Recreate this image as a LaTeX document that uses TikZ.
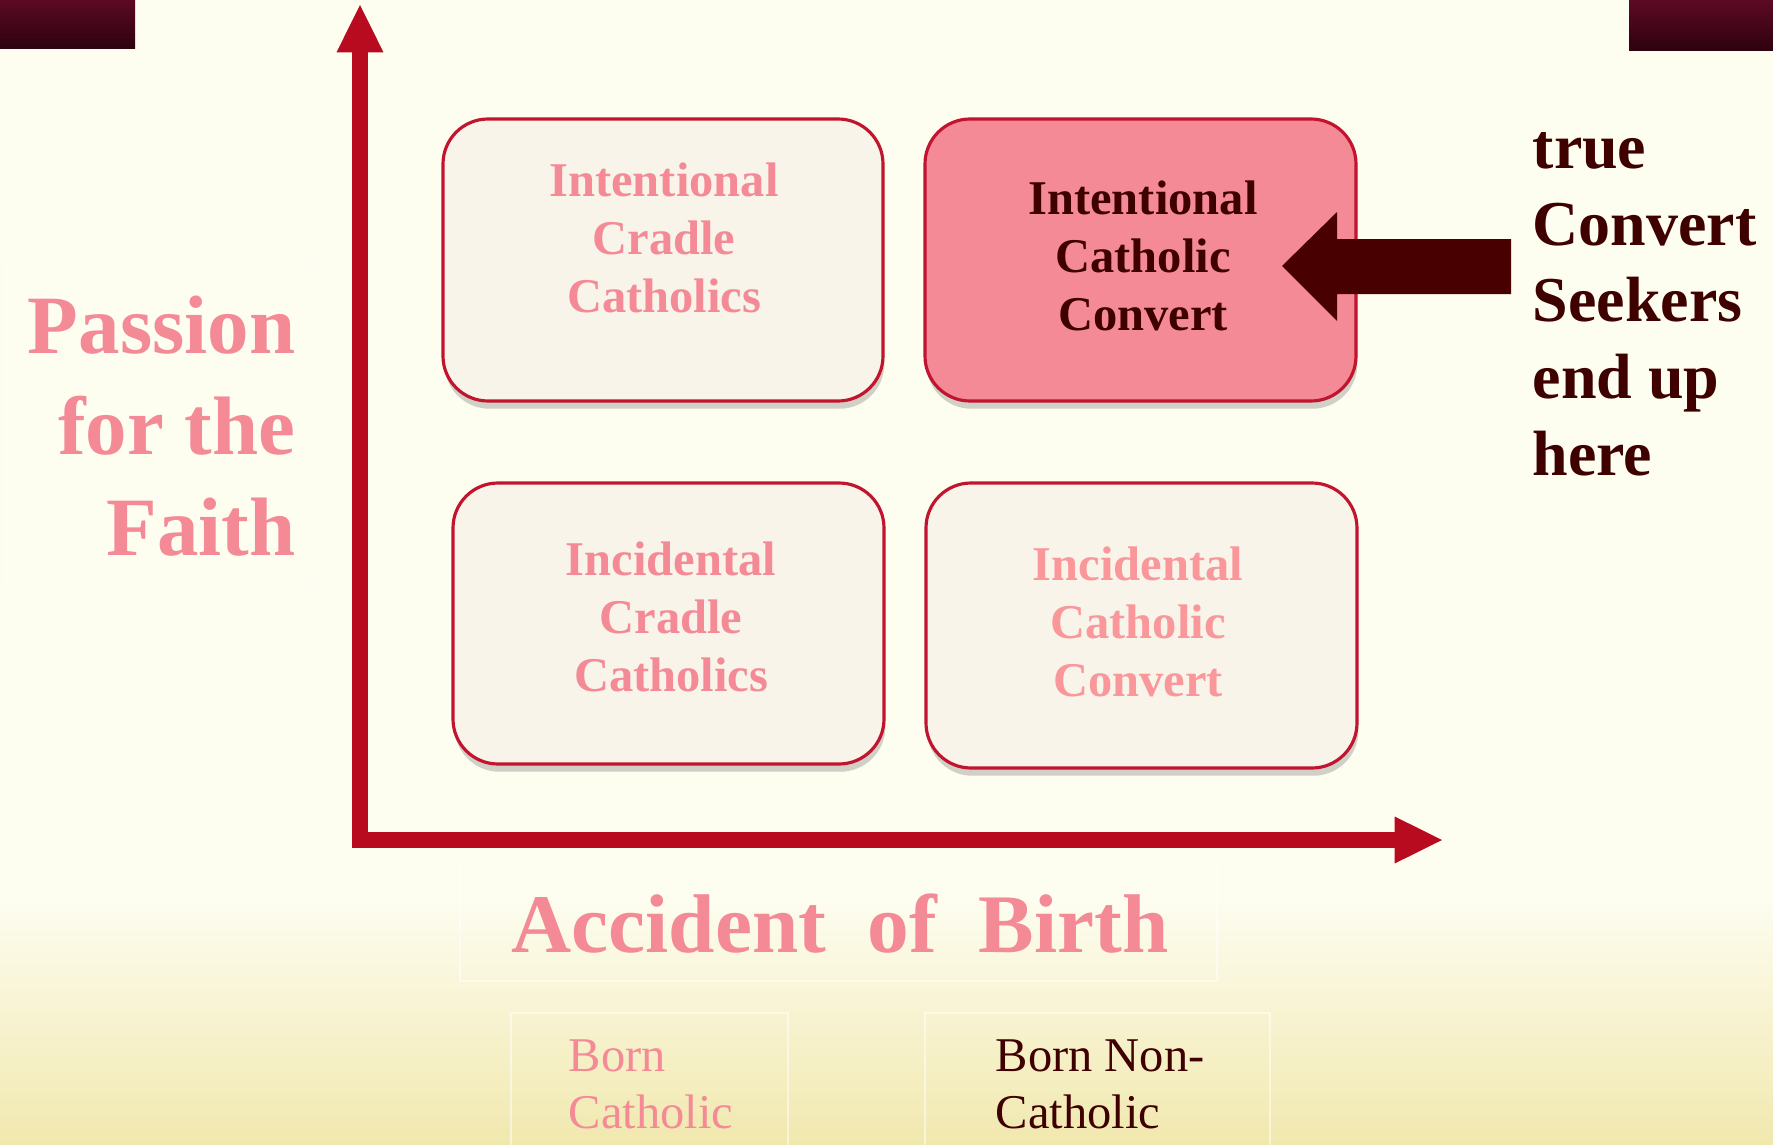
\documentclass[tikz,border=0pt]{standalone}
\usepackage{fontspec}
\setmainfont{Liberation Serif}
\usepackage{xcolor}
\usepackage{tikz}
\usetikzlibrary{arrows.meta}
\usetikzlibrary{shadows}

\definecolor{cream}{HTML}{FDFDF0}
\definecolor{wheat}{HTML}{F1E8AE}
\definecolor{axisred}{HTML}{B80B1F}
\definecolor{boxred}{HTML}{C2142E}
\definecolor{boxfill}{HTML}{F8F4EA}
\definecolor{rosepink}{HTML}{F48A95}
\definecolor{salmon}{HTML}{F9979A}
\definecolor{maroon}{HTML}{3F0000}
\definecolor{winetop}{HTML}{5C0A24}
\definecolor{winebot}{HTML}{2E020E}

\tikzset{
  quad/.style={draw=boxred, line width=0.9pt, fill=boxfill, rounded corners=4.5mm,
    inner sep=0pt, drop shadow={shadow xshift=0.4pt, shadow yshift=-2.2pt, opacity=0.25, fill=black!70}},
  quadtext/.style={align=center, inner sep=0pt, anchor=base, text=rosepink,
    font=\bfseries\fontsize{13.8}{16.4}\selectfont},
  axis/.style={line width=4.5pt, draw=axisred,
    -{Triangle[length=13.5pt, width=13.4pt, line width=0pt]}},
  ghost/.style={draw=white, line width=0.4pt, opacity=0.5}
}

\begin{document}
\begin{tikzpicture}[x=0.1mm, y=-0.1mm]
        \useasboundingbox (0,0) rectangle (1773,1145);

        % background
        \fill[cream] (0,0) rectangle (1773,1145);
        \shade[top color=cream, bottom color=wheat] (0,900) rectangle (1773,1145);
        \shade[top color=winetop, bottom color=winebot] (0,0) rectangle (135,48);
        \shade[top color=winetop, bottom color=winebot] (1629,0) rectangle (1773,50);

        % faint text frames
        \draw[ghost] (7,260) rectangle (318,584);
        \draw[ghost] (460,859) rectangle (1217,981);
        \draw[ghost] (511,1013) rectangle (788,1150);
        \draw[ghost] (925,1013) rectangle (1270,1150);

        % axes
        \coordinate (corner) at (360,840);
        \coordinate (ytop) at (360,5);
        \coordinate (xend) at (1442,840);
        \draw[axis] ([yshift=-2.25pt]corner) -- (ytop);
        \draw[axis] ([xshift=-2.25pt]corner) -- (xend);

        % quadrants
        \node[quad, minimum width=4.40cm, minimum height=2.82cm] (ic) at (663,260) {};
        \node[quad, fill=rosepink, minimum width=4.31cm, minimum height=2.82cm] (icc) at (1140.5,260) {};
        \node[quad, minimum width=4.31cm, minimum height=2.81cm] (dc) at (668.5,623.5) {};
        \node[quad, minimum width=4.31cm, minimum height=2.85cm] (dcc) at (1141.5,625.5) {};

        % base = baseline of the last line
        \node[quadtext] (ictext) at (664,312) {Intentional\\Cradle\\Catholics};
        \node[quadtext, text=maroon] (icctext) at (1143,330) {Intentional\\Catholic\\Convert};
        \node[quadtext] (dctext) at (671,691) {Incidental\\Cradle\\Catholics};
        \node[quadtext, text=salmon] (dcctext) at (1138,696) {Incidental\\Catholic\\Convert};

        % pointer to the converts
        \fill[maroon!95!red] (1282,266) -- (1337,212) -- (1337,239) -- (1511,239)
            -- (1511,294) -- (1337,294) -- (1337,321) -- cycle;

        % labels
        \node[align=left, anchor=base west, inner sep=0pt, text=maroon,
            font=\bfseries\fontsize{18.2}{21.8}\selectfont] (seekers) at (1532,475)
            {true\\Convert\\Seekers\\end up\\here};
        \node[align=right, anchor=base east, inner sep=0pt, text=rosepink,
            font=\bfseries\fontsize{23.6}{28.7}\selectfont] (passion) at (296,555)
            {Passion\\for the\\Faith};
        \node[anchor=base west, inner sep=0pt, text=rosepink,
            font=\bfseries\fontsize{23.7}{28}\selectfont] (birth) at (511,952)
            {Accident\enspace of\enspace Birth};
        \node[align=left, anchor=base west, inner sep=0pt, text=rosepink,
            font=\fontsize{13.8}{16.2}\selectfont] (borncath) at (568,1128)
            {Born\\Catholic};
        \node[align=left, anchor=base west, inner sep=0pt, text=maroon,
            font=\fontsize{13.8}{16.2}\selectfont] (bornnon) at (995,1128)
            {Born Non-\\Catholic};
\end{tikzpicture}
\end{document}
